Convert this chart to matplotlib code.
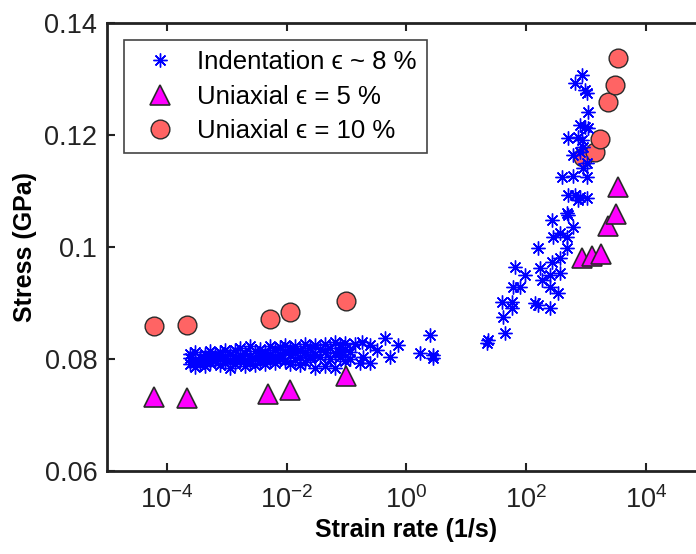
import matplotlib.pyplot as plt
from matplotlib.ticker import NullLocator

plt.rcParams['font.family'] = ['Liberation Sans', 'DejaVu Sans']
plt.rcParams['mathtext.fontset'] = 'custom'
plt.rcParams['mathtext.rm'] = 'Liberation Sans'
plt.rcParams['mathtext.it'] = 'Liberation Sans:italic'
plt.rcParams['mathtext.bf'] = 'Liberation Sans:bold'

# indentation data (strain rate 1/s, stress GPa)
ind_rate = [
    2.43e-4, 2.43e-4, 2.43e-4, 2.94e-4, 2.94e-4, 2.94e-4, 3.57e-4, 3.57e-4,
    4.33e-4, 4.33e-4, 4.33e-4, 5.25e-4, 5.25e-4, 5.25e-4, 6.35e-4, 6.35e-4,
    7.69e-4, 7.69e-4, 7.69e-4, 9.33e-4, 9.33e-4, 9.33e-4, 1.13e-3, 1.13e-3, 1.13e-3,
    1.37e-3, 1.37e-3, 1.37e-3, 1.66e-3, 1.66e-3, 1.66e-3, 2.01e-3, 2.01e-3, 2.01e-3,
    2.44e-3, 2.44e-3, 2.44e-3, 2.96e-3, 2.96e-3, 2.96e-3, 3.58e-3, 3.58e-3, 3.58e-3,
    4.34e-3, 4.34e-3, 4.34e-3, 5.26e-3, 5.26e-3, 5.26e-3, 6.38e-3, 6.38e-3, 6.38e-3,
    7.73e-3, 7.73e-3, 7.73e-3, 9.37e-3, 9.37e-3, 9.37e-3, 1.14e-2, 1.14e-2, 1.14e-2,
    1.38e-2, 1.38e-2, 1.38e-2, 1.67e-2, 1.67e-2, 1.67e-2, 2.02e-2, 2.02e-2, 2.02e-2,
    2.45e-2, 2.45e-2, 2.45e-2, 2.96e-2, 2.96e-2, 2.96e-2, 3.59e-2, 3.59e-2,
    4.35e-2, 4.35e-2, 4.35e-2, 5.28e-2, 5.28e-2, 6.40e-2, 6.40e-2, 6.40e-2,
    7.76e-2, 7.76e-2, 7.76e-2, 9.40e-2, 9.40e-2, 9.40e-2,
    0.114, 0.114, 0.138, 0.167, 0.178, 0.19, 0.246, 0.246, 0.32, 0.438, 0.531,
    0.721, 1.68, 2.47, 2.77, 2.77,
    22.1, 22.9, 39.3, 40.8, 44.1, 57.7, 57.7, 59.9, 64.7, 78.5, 95.1,
    140, 157, 157, 169, 183, 249, 249, 249, 269, 269, 279, 338, 366, 366, 366,
    394, 478, 478, 478, 497, 497, 497, 603, 603, 603, 650, 650, 730, 730,
    788, 788, 788, 851, 851, 885, 885, 955, 955, 1031, 1031, 1031, 1031, 1071, 1071,
]
ind_stress = [
    0.0801, 0.0790, 0.0808, 0.0796, 0.0812, 0.0785, 0.0803, 0.0791,
    0.0809, 0.0798, 0.0786, 0.0802, 0.0814, 0.0792, 0.0806, 0.0795,
    0.0811, 0.0799, 0.0788, 0.0804, 0.0816, 0.0793, 0.0808, 0.0797, 0.0784,
    0.0815, 0.0801, 0.0791, 0.0819, 0.0806, 0.0795, 0.0810, 0.0798, 0.0787,
    0.0822, 0.0804, 0.0793, 0.0813, 0.0800, 0.0789, 0.0818, 0.0807, 0.0796,
    0.0811, 0.0801, 0.0790, 0.0823, 0.0809, 0.0797, 0.0816, 0.0803, 0.0792,
    0.0820, 0.0808, 0.0799, 0.0825, 0.0812, 0.0795, 0.0818, 0.0806, 0.0791,
    0.0822, 0.0810, 0.0798, 0.0815, 0.0803, 0.0788, 0.0826, 0.0811, 0.0794,
    0.0819, 0.0805, 0.0801, 0.0824, 0.0809, 0.0783, 0.0817, 0.0803,
    0.0826, 0.0812, 0.0786, 0.0819, 0.0800, 0.0830, 0.0810, 0.0784,
    0.0825, 0.0812, 0.0803, 0.0828, 0.0818, 0.0795,
    0.0812, 0.0800, 0.0826, 0.0792, 0.0830, 0.0803, 0.0792, 0.0824, 0.0816, 0.0837, 0.0803,
    0.0824, 0.0810, 0.0842, 0.0807, 0.0801,
    0.0828, 0.0833, 0.0901, 0.0875, 0.0846, 0.0901, 0.0891, 0.0928, 0.0964, 0.0928, 0.0950,
    0.0900, 0.0998, 0.0896, 0.0962, 0.0941, 0.0950, 0.0928, 0.0891, 0.1048, 0.0973, 0.1018,
    0.0917, 0.1025, 0.0980, 0.0953,
    0.1125, 0.1060, 0.1018, 0.0998, 0.1194, 0.1093, 0.1057, 0.1164, 0.1127, 0.1035,
    0.1293, 0.1093, 0.1196, 0.1084,
    0.1218, 0.1169, 0.1089, 0.1307, 0.1191, 0.1178, 0.1141, 0.1280, 0.1214,
    0.1275, 0.1150, 0.1125, 0.1087, 0.1241, 0.1212,
]

# uniaxial tests
uni5_rate = [6.1e-5, 2.17e-4, 4.88e-3, 1.13e-2, 0.098, 851, 1250, 1766, 2312, 3143, 3397]
uni5_stress = [0.0732, 0.0730, 0.0737, 0.0744, 0.0769, 0.0980, 0.0984, 0.0987, 0.1037, 0.1059, 0.1107]

uni10_rate = [6.1e-5, 2.17e-4, 5.26e-3, 1.13e-2, 0.098, 885, 1403, 1700, 2312, 3027, 3397]
uni10_stress = [0.0858, 0.0860, 0.0871, 0.0883, 0.0903, 0.1160, 0.1169, 0.1193, 0.1259, 0.1289, 0.1337]

fig = plt.figure(figsize=(6.96, 5.54), dpi=100)
# axes runs past the right edge, like the cropped original
ax = fig.add_axes([0.1537, 0.1507, 0.8607, 0.8078])

h10, = ax.plot(uni10_rate, uni10_stress, linestyle='none', marker='o', ms=13.5,
               mfc='#FF6464', mec='#2a2a2a', mew=1.0, zorder=2)
h_ind, = ax.plot(ind_rate, ind_stress, linestyle='none', marker=(8, 2, 0), ms=10,
                 mec='blue', mfc='blue', mew=1.0, zorder=3)
h5, = ax.plot(uni5_rate, uni5_stress, linestyle='none', marker='^', ms=15,
              mfc='magenta', mec='#2a2a2a', mew=1.2, zorder=4)

ax.set_xscale('log')
ax.set_xlim(1e-5, 1e5)
ax.set_ylim(0.06, 0.14)
ax.set_xticks([1e-4, 1e-2, 1e0, 1e2, 1e4])
ax.xaxis.set_minor_locator(NullLocator())
ax.set_yticks([0.06, 0.08, 0.1, 0.12, 0.14])
ax.set_yticklabels(['0.06', '0.08', '0.1', '0.12', '0.14'])

ax.tick_params(direction='in', length=6, width=1.5, top=True, right=True,
               labelsize=19.5, colors='#222222')
ax.tick_params(axis='x', pad=11)
ax.tick_params(axis='y', pad=7)
for s in ax.spines.values():
    s.set_linewidth(2)
    s.set_color('#222222')

ax.set_xlabel('Strain rate (1/s)', fontsize=18, fontweight='bold', labelpad=3)
ax.set_ylabel('Stress (GPa)', fontsize=18, fontweight='bold', labelpad=5)

leg = ax.legend([h_ind, h5, h10],
                ['Indentation \u03f5 ~ 8 %', 'Uniaxial \u03f5 = 5 %', 'Uniaxial \u03f5 = 10 %'],
                loc='upper left', bbox_to_anchor=(0.028, 0.962), borderaxespad=0,
                fontsize=18.5, frameon=True, fancybox=False, framealpha=1,
                edgecolor='#444444', handlelength=2.0, handletextpad=0.45,
                labelspacing=0.4, borderpad=0.4)
leg.get_frame().set_linewidth(1.2)

fig.savefig('out.png', dpi=100)
